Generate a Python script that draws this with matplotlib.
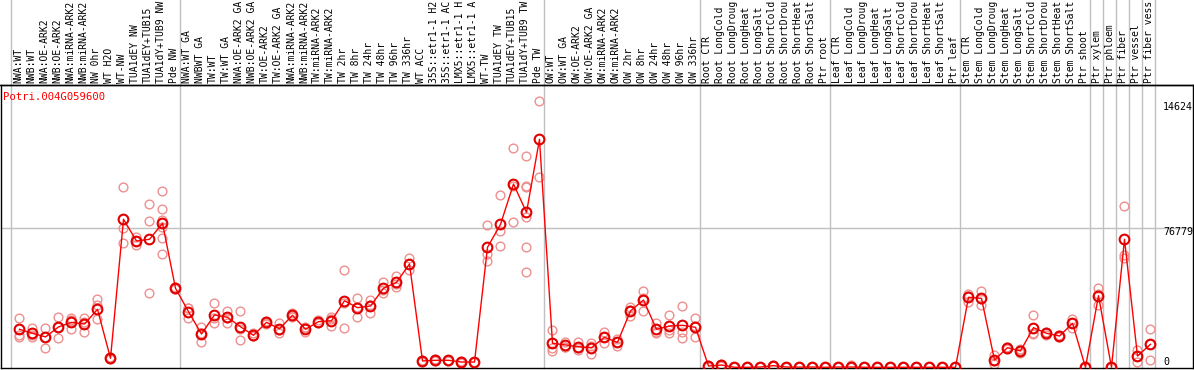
import matplotlib
matplotlib.use("Agg")
import matplotlib.pyplot as plt
import matplotlib.transforms as mtransforms

# ---------------- data ----------------
gene = "Potri.004G059600"

labels = [
    "NWA:WT", "NWB:WT", "NWA:OE-ARK2", "NWB:OE-ARK2", "NWA:miRNA-ARK2", "NWB:miRNA-ARK2",
    "NW 0hr", "WT H2O", "WT-NW", "TUA1dEY NW", "TUA1dEY+TUB15", "TUA1dY+TUB9 NW", "Pde NW",
    "NWA:WT GA", "NWBWT GA", "TW:WT", "TW:WT GA", "NWA:OE-ARK2 GA", "NWB:OE-ARK2 GA",
    "TW:OE-ARK2", "TW:OE-ARK2 GA", "NWA:miRNA-ARK2", "NWB:miRNA-ARK2", "TW:miRNA-ARK2",
    "TW:miRNA-ARK2", "TW 2hr", "TW 8hr", "TW 24hr", "TW 48hr", "TW 96hr", "TW 336hr",
    "WT ACC", "35S::etr1-1 H2", "35S::etr1-1 AC", "LMX5::etr1-1 H", "LMX5::etr1-1 A",
    "WT-TW", "TUA1dEY TW", "TUA1dEY+TUB15", "TUA1dY+TUB9 TW", "Pde TW",
    "OW:WT", "OW:WT GA", "OW:OE-ARK2", "OW:OE-ARK2 GA", "OW:miRNA-ARK2", "OW:miRNA-ARK2",
    "OW 2hr", "OW 8hr", "OW 24hr", "OW 48hr", "OW 96hr", "OW 336hr",
    "Root CTR", "Root LongCold", "Root LongDroug", "Root LongHeat", "Root LongSalt",
    "Root ShortCold", "Root ShortDrou", "Root ShortHeat", "Root ShortSalt", "Ptr root",
    "Leaf CTR", "Leaf LongCold", "Leaf LongDroug", "Leaf LongHeat", "Leaf LongSalt",
    "Leaf ShortCold", "Leaf ShortDrou", "Leaf ShortHeat", "Leaf ShortSalt", "Ptr leaf",
    "Stem CTR", "Stem LongCold", "Stem LongDroug", "Stem LongHeat", "Stem LongSalt",
    "Stem ShortCold", "Stem ShortDrou", "Stem ShortHeat", "Stem ShortSalt", "Ptr shoot",
    "Ptr xylem", "Ptr phloem", "Ptr fiber", "Ptr vessel", "Ptr fiber vess",
]

group_sizes = [13, 28, 12, 10, 10, 10, 1, 1, 1, 1, 1]

means = [
    20900, 18700, 16700, 22200, 24700, 23800, 31900, 4950, 81400, 69500, 70400, 79200, 43450,
    30600, 18300, 28800, 27500, 22300, 17600, 24700, 21200, 28600, 20900, 25100, 25600,
    36600, 32800, 33700, 43450, 46700, 56800, 3500, 3850, 3850, 2900, 2900,
    66000, 78600, 100800, 85200, 125400,
    13200, 12300, 11300, 10800, 16500, 13700, 31000, 37000, 20900, 22700, 23100, 22000,
    700, 1250, 0, 0, 150, 900, 150, 100, 150, 0,
    150, 150, 0, 0, 0, 0, 0, 0, 0, 0,
    38500, 37900, 4000, 10800, 9000, 21800, 18700, 17200, 24200, 0,
    39400, 0, 70400, 6200, 12650,
]

replicates = [
    [26950, 17800, 16800], [21800, 16800, 17500], [21600, 10600, 16800], [27500, 16000, 22200],
    [27300, 26000, 20900], [26950, 25000, 19250], [37400, 34300, 26400], [5500, 4400, 4950],
    [99000, 76800, 68500], [71500, 67300, 69600], [89650, 80500, 40700],
    [96800, 86900, 81000, 77300, 70950, 62150], [44000, 42900, 43450],
    [32450, 26950, 32400], [22000, 14100, 18800], [35200, 24200, 27000], [31000, 24200, 27300],
    [31000, 15000, 21000], [18600, 17000, 17200], [25500, 24000, 24600], [24200, 19000, 20400],
    [29800, 27600, 28400], [21500, 19250, 22000], [26000, 24300, 25000], [27800, 22700, 26300],
    [53350, 35200, 21600], [37950, 27500, 33000], [37000, 29700, 34400], [46900, 41000, 42450],
    [50200, 44000, 45900], [60100, 53500, 56800], [3500, 3000, 4000], [4300, 3400, 3850],
    [4100, 3600, 3850], [3200, 2600, 2900], [3100, 2700, 2900],
    [78100, 62300, 58300], [94600, 75100, 66500], [120450, 99900, 79750],
    [116000, 99700, 99000, 82800, 66000, 52250], [146240, 104600],
    [20500, 10450, 9130], [14100, 11300, 11400], [14100, 9500, 10400], [13200, 7300, 11800],
    [19600, 13200, 16700], [15500, 11800, 13900], [33300, 28200, 31400], [42000, 31000, 38000],
    [24200, 19000, 19500], [28600, 20500, 19000], [33550, 19600, 16100], [26950, 16500, 22500],
    [1200, 500, 400], [2000, 1000, 800], [0, 0, 0], [0, 0, 0], [300, 100, 100],
    [1400, 600, 700], [300, 100, 100], [200, 100, 0], [300, 100, 100], [0, 0, 0],
    [300, 100, 100], [1100, 0, 0], [0, 0, 0], [0, 0, 0], [0, 0, 0],
    [0, 0, 0], [0, 0, 0], [0, 0, 0], [0, 0, 0], [0, 0, 0],
    [40300, 36100, 39100], [42000, 34300, 37500], [6800, 1800, 3500], [11300, 10000, 11200],
    [9500, 7600, 9800], [28600, 18150, 18600], [19600, 17600, 18900], [17800, 16500, 17300],
    [26400, 21800, 24400], [0, 0, 0],
    [43600, 34300, 40300], [0, 0, 0], [88900, 61800, 60300], [9500, 3100, 6000],
    [20900, 4000, 13000],
]

y_ticks = [0, 76779]
y_tick_labels = ["0", "76779"]
y_max_label = "14624"
y_max_value = 146240

# ---------------- figure ----------------
W, H = 1194, 370
fig = plt.figure(figsize=(W / 100, H / 100), dpi=100)
ax = fig.add_axes([1 / W, 2 / H, 1192 / W, 283 / H])

grid_c = "#c0c0c0"
x = list(range(len(labels)))

# group separator lines (extend through label area)
bounds = [-0.69]
acc = 0
for g in group_sizes:
    acc += g
    bounds.append(acc - 1 + 0.38)
trans = mtransforms.blended_transform_factory(ax.transData, ax.transAxes)
for b in bounds:
    ax.plot([b, b], [0, 1.32], color=grid_c, lw=1.0, transform=trans,
            clip_on=False, zorder=0.5)

ax.axhline(y_ticks[1], color=grid_c, lw=1.0, zorder=0.5)

# replicates
for i, reps in enumerate(replicates):
    ax.plot([i] * len(reps), reps, linestyle="none", marker="o", ms=6.3,
            mfc="none", mec="#ee8f8f", mew=1.0, zorder=2, clip_on=True)

# mean line and markers
ax.plot(x, means, color="#ff0000", lw=1.0, zorder=3)
ax.plot(x, means, linestyle="none", marker="o", ms=7.0, mfc="none",
        mec="#e00000", mew=1.5, zorder=4)

ax.set_xlim(-1.423, 90.27)
ax.set_ylim(-385, 155265)
ax.set_xticks([])
ax.set_yticks([])
for s in ax.spines.values():
    s.set_color("black")
    s.set_linewidth(1.0)

# top black line across the full width
fig.add_artist(plt.Line2D([0, 1], [1 - 85 / H, 1 - 85 / H], color="black", lw=1.0,
                          transform=fig.transFigure))

mono = "DejaVu Sans Mono"
# category labels
for i, lab in enumerate(labels):
    ax.text(i - 0.12, 1 + 2.5 / 283, lab, rotation=90, ha="center", va="bottom",
            fontsize=7.0, family=mono, transform=trans, clip_on=False)

# gene name
fig.text(3 / W, 1 - 97 / H, gene, color="#ff0000", fontsize=7.7, family=mono,
         ha="left", va="center")

# value labels on the right
def ypix(v):
    return 367.3 - v / 550.0

for v, t in zip(y_ticks, y_tick_labels):
    yp = ypix(v) + 4.5 if v > 0 else 361.7
    fig.text(1163 / W, 1 - yp / H, t, fontsize=7.2, family=mono, ha="left", va="center")
fig.text(1163 / W, 1 - (ypix(y_max_value) + 5.5) / H, y_max_label, fontsize=7.2,
         family=mono, ha="left", va="center")

fig.savefig("out.png", dpi=100)
